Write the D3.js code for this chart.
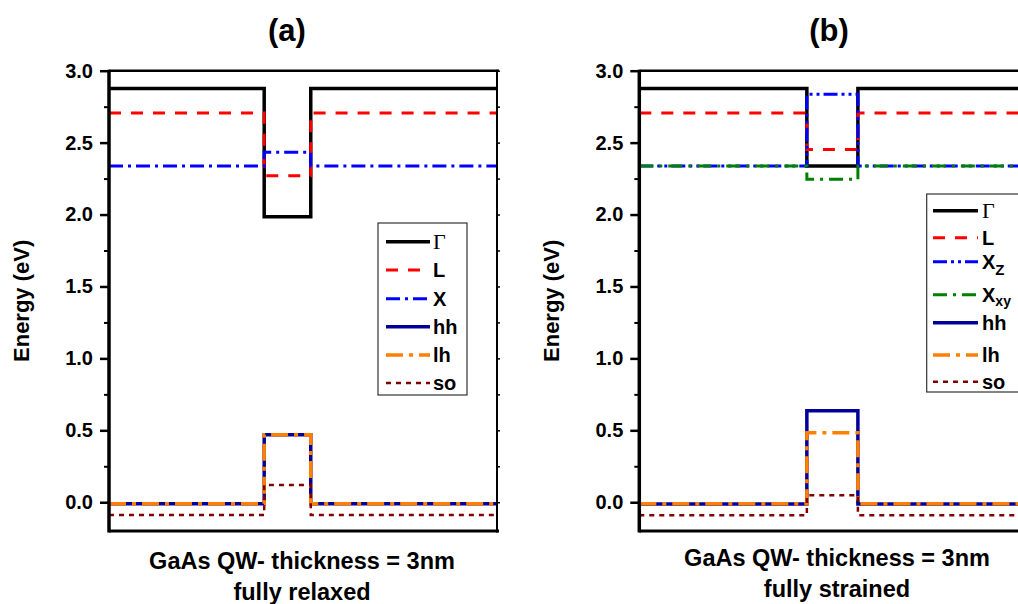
<!DOCTYPE html>
<html>
<head>
<meta charset="utf-8">
<script src="https://cdn.jsdelivr.net/npm/d3@7"></script>
<style>
  html, body { margin: 0; padding: 0; background: #fff; }
  svg { display: block; font-family: "Liberation Sans", Arial, sans-serif; }
</style>
</head>
<body>
<svg id="chart" width="1018" height="604"></svg>
<script>
// Band-edge energies (eV) across a 3 nm GaAs quantum well, barrier vs. well region.
const bandsA    = ["Γ", "L", "X", "hh", "lh", "so"];
const barrierA  = [2.877, 2.706, 2.337, -0.01, -0.01, -0.089];
const wellA     = [1.985, 2.27, 2.433, 0.469, 0.469, 0.12];

const bandsB    = ["Γ", "L", "Xz", "Xxy", "hh", "lh", "so"];
const barrierB  = [2.877, 2.706, 2.337, 2.337, -0.012, -0.01, -0.091];
const wellB     = [2.337, 2.453, 2.836, 2.245, 0.636, 0.483, 0.048];

// Position (nm): well occupies [0, 3]
const wellEdges = [0, 3];
const xDomainA  = [-10, 15];
const xDomainB  = [-9.85, 13];

const yDomain     = [-0.2, 3.0];
const yMajorTicks = [0.0, 0.5, 1.0, 1.5, 2.0, 2.5, 3.0];
const yMinorTicks = [0.25, 0.75, 1.25, 1.75, 2.25, 2.75];

const titles  = ["(a)", "(b)"];
const xLabel1 = "GaAs QW- thickness = 3nm";
const xLabel2 = ["fully relaxed", "fully strained"];

// Line styling per band
const styles = {
  "Γ":   { color: "#000000", width: 3.5, dash: null },
  "L":   { color: "#ff0000", width: 3,   dash: "12,10" },
  "X":   { color: "#0000ff", width: 3,   dash: "14,5,3,5" },
  "Xz":  { color: "#0000ff", width: 3,   dash: "14,4,3,4,3,4" },
  "Xxy": { color: "#008000", width: 3,   dash: "14,6,3,6" },
  "hh":  { color: "#000099", width: 3.5, dash: null },
  "lh":  { color: "#ff8000", width: 3.5, dash: "17,6,4,6" },
  "so":  { color: "#800000", width: 2.5, dash: "5,5" }
};

const svg = d3.select("#chart");
const plotTop = 70.7, plotBottom = 531;

const y = d3.scaleLinear().domain(yDomain).range([plotBottom, plotTop]);

function drawPanel(cfg) {
  const x = d3.scaleLinear().domain(cfg.xDomain).range([cfg.left, cfg.right]);
  const g = svg.append("g");

  // band profiles
  const line = d3.line().x(d => x(d[0])).y(d => y(d[1]));
  cfg.bands.forEach((b, i) => {
    const pts = [
      [cfg.xDomain[0], cfg.barrier[i]],
      [wellEdges[0], cfg.barrier[i]],
      [wellEdges[0], cfg.well[i]],
      [wellEdges[1], cfg.well[i]],
      [wellEdges[1], cfg.barrier[i]],
      [cfg.xDomain[1], cfg.barrier[i]]
    ];
    const s = styles[b];
    g.append("path")
      .attr("d", line(pts))
      .attr("fill", "none")
      .attr("stroke", s.color)
      .attr("stroke-width", s.width)
      .attr("stroke-dasharray", s.dash)
      .attr("stroke-linejoin", "miter");
  });

  // left axis: major and minor ticks
  const axMaj = d3.axisLeft(y).tickValues(yMajorTicks).tickSize(9).tickPadding(7)
    .tickFormat(d3.format(".1f"));
  const gl = g.append("g").attr("transform", `translate(${cfg.left},0)`).call(axMaj);
  gl.select(".domain").remove();
  gl.selectAll(".tick line").attr("stroke", "#000").attr("stroke-width", 2.5);
  gl.selectAll(".tick text").attr("font-size", 20).attr("font-weight", "bold").attr("fill", "#000");

  const axMin = d3.axisLeft(y).tickValues(yMinorTicks).tickSize(5).tickFormat("");
  const gm = g.append("g").attr("transform", `translate(${cfg.left},0)`).call(axMin);
  gm.select(".domain").remove();
  gm.selectAll(".tick line").attr("stroke", "#000").attr("stroke-width", 2);

  // right axis mirror ticks
  const axR = d3.axisRight(y).tickValues(yMajorTicks.concat(yMinorTicks)).tickSize(3).tickFormat("");
  const gr = g.append("g").attr("transform", `translate(${cfg.right},0)`).call(axR);
  gr.select(".domain").remove();
  gr.selectAll(".tick line").attr("stroke", "#000").attr("stroke-width", 1.5);

  // frame
  g.append("line").attr("x1", cfg.left).attr("x2", cfg.right + 2).attr("y1", plotTop).attr("y2", plotTop)
    .attr("stroke", "#000").attr("stroke-width", 2.5);
  g.append("line").attr("x1", cfg.left).attr("x2", cfg.right + 2).attr("y1", plotBottom).attr("y2", plotBottom)
    .attr("stroke", "#000").attr("stroke-width", 3);
  g.append("line").attr("x1", cfg.left).attr("x2", cfg.left).attr("y1", plotTop - 1).attr("y2", plotBottom + 1.5)
    .attr("stroke", "#000").attr("stroke-width", 3.5);
  g.append("line").attr("x1", cfg.right).attr("x2", cfg.right).attr("y1", plotTop - 1).attr("y2", plotBottom + 1.5)
    .attr("stroke", "#000").attr("stroke-width", 2);

  // title
  g.append("text").attr("x", cfg.titleX).attr("y", 41).attr("text-anchor", "middle")
    .attr("font-size", 31).attr("font-weight", "bold").text(cfg.title);

  // y label
  g.append("text")
    .attr("transform", `translate(${cfg.left - 80},${(plotTop + plotBottom) / 2}) rotate(-90)`)
    .attr("text-anchor", "middle").attr("font-size", 22).attr("font-weight", "bold")
    .text("Energy (eV)");

  // x label (two lines)
  g.append("text").attr("x", cfg.labelX).attr("y", cfg.label1Y).attr("text-anchor", "middle")
    .attr("font-size", 23.5).attr("font-weight", "bold").text(xLabel1);
  g.append("text").attr("x", cfg.labelX).attr("y", cfg.label2Y).attr("text-anchor", "middle")
    .attr("font-size", 23.5).attr("font-weight", "bold").text(cfg.xLabel2);

  // legend
  const lg = g.append("g");
  lg.append("rect").attr("x", cfg.legend.x).attr("y", cfg.legend.y)
    .attr("width", cfg.legend.w).attr("height", cfg.legend.h)
    .attr("fill", "#fff").attr("stroke", "#333").attr("stroke-width", 1.2);
  cfg.bands.forEach((b, i) => {
    const ry = cfg.legend.rows[i];
    const s = styles[b];
    lg.append("line")
      .attr("x1", cfg.legend.lx0).attr("x2", cfg.legend.lx1)
      .attr("y1", ry).attr("y2", ry)
      .attr("stroke", s.color).attr("stroke-width", s.width)
      .attr("stroke-dasharray", s.dash);
    const t = lg.append("text").attr("x", cfg.legend.tx).attr("y", ry + 7)
      .attr("font-size", 20).attr("font-weight", "bold").attr("fill", "#000");
    if (b === "Γ") {
      t.attr("font-family", "'Liberation Serif', 'Times New Roman', serif")
        .attr("font-weight", "normal").attr("font-size", 22).text("Γ");
    } else if (b === "Xz") {
      t.text("X");
      t.append("tspan").attr("dy", 6).attr("font-size", 15).text("Z");
    } else if (b === "Xxy") {
      t.text("X");
      t.append("tspan").attr("dy", 4).attr("font-size", 14).text("xy");
    } else {
      t.text(b);
    }
  });
}

drawPanel({
  bands: bandsA, barrier: barrierA, well: wellA,
  xDomain: xDomainA, left: 109, right: 497,
  title: titles[0], titleX: 287,
  labelX: 302, label1Y: 569, label2Y: 600, xLabel2: xLabel2[0],
  legend: { x: 378, y: 223, w: 89, h: 172, lx0: 386, lx1: 430, tx: 433,
            rows: [241.7, 270, 298.7, 326.7, 355, 383] }
});

drawPanel({
  bands: bandsB, barrier: barrierB, well: wellB,
  xDomain: xDomainB, left: 639.3, right: 1028,
  title: titles[1], titleX: 829,
  labelX: 837, label1Y: 566, label2Y: 597, xLabel2: xLabel2[1],
  legend: { x: 926.7, y: 194, w: 110, h: 198, lx0: 933, lx1: 978, tx: 982,
            rows: [210.7, 237.7, 261.7, 294.7, 322.7, 355, 381.7] }
});
</script>
</body>
</html>
